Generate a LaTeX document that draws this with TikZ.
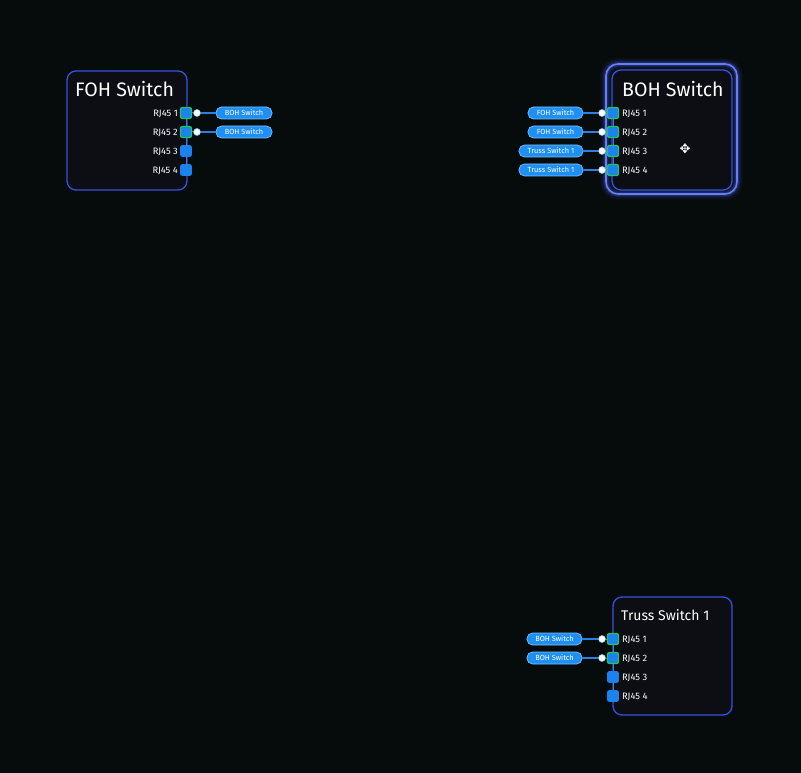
\documentclass[tikz,border=0pt]{standalone}
\usepackage{fontspec}
\setmainfont{Fira Sans}
\definecolor{bg}{HTML}{060B0B}
\definecolor{boxfill}{HTML}{0D0E13}
\definecolor{boxedge}{HTML}{3553E0}
\definecolor{glow}{HTML}{4A66F5}
\definecolor{portfill}{HTML}{1B82EE}
\definecolor{portgreen}{HTML}{22C55E}
\definecolor{pillfill}{HTML}{1E8FF5}
\definecolor{pilledge}{HTML}{7CC2FF}
\definecolor{wire}{HTML}{2F7FE0}
\begin{document}
\begin{tikzpicture}[x=1pt,y=-1pt,
  devbox/.style={draw=boxedge,line width=1.3pt,fill=boxfill,rounded corners=9pt},
  title/.style={anchor=base west,text=white,inner sep=0pt,font=\fontsize{19.5}{19.5}\selectfont},
  port/.style={draw=portfill,fill=portfill,rounded corners=2pt,minimum size=11pt,inner sep=0pt,line width=0.8pt},
  linked/.style={draw=portgreen,line width=1.3pt},
  plabel/.style={text=white,inner sep=0pt,font=\fontsize{9.3}{9.3}\selectfont},
  pill/.style={draw=pilledge,fill=pillfill,rounded corners=5.5pt,minimum height=12pt,inner sep=0pt,text=white,font=\fontsize{7.4}{7.4}\selectfont,line width=0.7pt},
  dot/.style={circle,fill=white,draw=pilledge,minimum size=7pt,inner sep=0pt,line width=0.5pt},
  conn/.style={draw=wire,line width=1.6pt},
  spine/.style={draw=portfill!70!gray,line width=1pt}]
\fill[bg] (0,0) rectangle (801,773);
\useasboundingbox (0,0) rectangle (801,773);

% ---------------- FOH Switch ----------------
\draw[devbox] (67,71) rectangle (187,190);
\node[title] (fohT) at (75,96.5) {FOH Switch};
\draw[spine] (186,113) -- (186,170);
\node[port,linked] (f1) at (186,113) {};
\node[port,linked] (f2) at (186,132) {};
\node[port] (f3) at (186,151) {};
\node[port] (f4) at (186,170) {};
\node[plabel,anchor=east] (fl1) at (178,114) {RJ45 1};
\node[plabel,anchor=east] (fl2) at (178,133) {RJ45 2};
\node[plabel,anchor=east] (fl3) at (178,152) {RJ45 3};
\node[plabel,anchor=east] (fl4) at (178,171) {RJ45 4};
\node[pill,minimum width=56pt] (fp1) at (244,113) {BOH Switch};
\node[pill,minimum width=56pt] (fp2) at (244,132) {BOH Switch};
\node[dot] (fd1) at (197,113) {};
\node[dot] (fd2) at (197,132) {};
\draw[conn] (fd1) -- (fp1);
\draw[conn] (fd2) -- (fp2);
\draw[conn,line width=1pt] (f1) -- (fd1);
\draw[conn,line width=1pt] (f2) -- (fd2);

% ---------------- BOH Switch ----------------
\foreach \w/\o in {12/0.05,9/0.08,6/0.12,4/0.2}{
  \draw[draw=glow,line width=\w pt,opacity=\o,rounded corners=12pt] (606,64) rectangle (737,194);}
\draw[draw=glow!85!white,line width=1.6pt,rounded corners=12pt] (606,64) rectangle (737,194);
\draw[devbox] (612,70) rectangle (732,190);
\node[title] (bohT) at (622,96.5) {BOH Switch};
\draw[spine] (613,113) -- (613,170);
\node[port,linked] (b1) at (613,113) {};
\node[port,linked] (b2) at (613,132) {};
\node[port,linked] (b3) at (613,151) {};
\node[port,linked] (b4) at (613,170) {};
\node[plabel,anchor=west] (bl1) at (622,114) {RJ45 1};
\node[plabel,anchor=west] (bl2) at (622,133) {RJ45 2};
\node[plabel,anchor=west] (bl3) at (622,152) {RJ45 3};
\node[plabel,anchor=west] (bl4) at (622,171) {RJ45 4};
\node[pill,minimum width=55pt] (bp1) at (555.5,113) {FOH Switch};
\node[pill,minimum width=55pt] (bp2) at (555.5,132) {FOH Switch};
\node[pill,minimum width=64pt] (bp3) at (551,151) {Truss Switch 1};
\node[pill,minimum width=64pt] (bp4) at (551,170) {Truss Switch 1};
\node[dot] (bd1) at (602,113) {};
\node[dot] (bd2) at (602,132) {};
\node[dot] (bd3) at (602,151) {};
\node[dot] (bd4) at (602,170) {};
\foreach \i in {1,2,3,4}{
  \draw[conn] (bp\i) -- (bd\i);
  \draw[conn,line width=1pt] (bd\i) -- (b\i);}
% move cursor
\node[inner sep=0pt,text=white,font=\fontsize{13}{13}\selectfont] (cur) at (685,149) {\fontspec{DejaVu Sans}✥};

% ---------------- Truss Switch 1 ----------------
\draw[devbox] (613,597) rectangle (732,715);
\node[title,font=\fontsize{14}{14}\selectfont] (trT) at (621,620.5) {Truss Switch 1};
\draw[spine] (613,639) -- (613,696);
\node[port,linked] (t1) at (613,639) {};
\node[port,linked] (t2) at (613,658) {};
\node[port] (t3) at (613,677) {};
\node[port] (t4) at (613,696) {};
\node[plabel,anchor=west] (tl1) at (622,640) {RJ45 1};
\node[plabel,anchor=west] (tl2) at (622,659) {RJ45 2};
\node[plabel,anchor=west] (tl3) at (622,678) {RJ45 3};
\node[plabel,anchor=west] (tl4) at (622,697) {RJ45 4};
\node[pill,minimum width=55pt] (tp1) at (554.5,639) {BOH Switch};
\node[pill,minimum width=55pt] (tp2) at (554.5,658) {BOH Switch};
\node[dot] (td1) at (602,639) {};
\node[dot] (td2) at (602,658) {};
\draw[conn] (tp1) -- (td1);
\draw[conn] (tp2) -- (td2);
\draw[conn,line width=1pt] (td1) -- (t1);
\draw[conn,line width=1pt] (td2) -- (t2);
\end{tikzpicture}
\end{document}
